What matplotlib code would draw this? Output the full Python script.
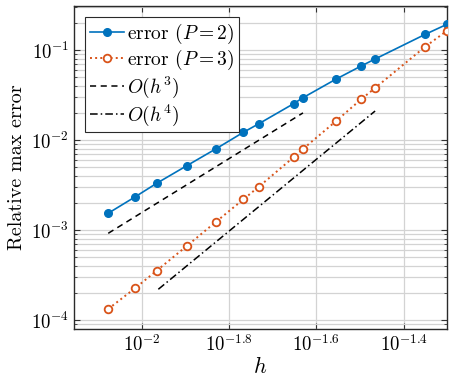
import numpy as np
import matplotlib
matplotlib.use("Agg")
import matplotlib.pyplot as plt
from matplotlib.ticker import FixedLocator, FuncFormatter, LogLocator, NullFormatter

plt.rcParams['font.family'] = 'serif'
plt.rcParams['font.serif'] = ['cmr10']
plt.rcParams['mathtext.fontset'] = 'cm'
plt.rcParams['axes.unicode_minus'] = False
plt.rcParams['axes.formatter.use_mathtext'] = True

# data (log10 values)
log_h = [-2.0766, -2.0154, -1.9656, -1.8968, -1.8296, -1.767, -1.7317,
         -1.6523, -1.6307, -1.556, -1.4977, -1.4656, -1.3509, -1.301]
log_err_p2 = [-2.814, -2.633, -2.481, -2.286, -2.097, -1.914, -1.819,
              -1.597, -1.530, -1.326, -1.178, -1.100, -0.826, -0.714]
log_err_p3 = [-3.878, -3.648, -3.452, -3.178, -2.908, -2.659, -2.519,
              -2.192, -2.100, -1.794, -1.548, -1.422, -0.963, -0.786]
# reference slope lines: endpoints (log10 h, log10 value)
ref3_log_h = [-2.0766, -1.6307]
ref3_log_y = [-3.037, -1.699]
ref4_log_h = [-1.9619, -1.4656]
ref4_log_y = [-3.659, -1.678]
x_tick_exps = [-2.0, -1.8, -1.6, -1.4]

h = 10.0 ** np.array(log_h)
e2 = 10.0 ** np.array(log_err_p2)
e3 = 10.0 ** np.array(log_err_p3)

fig = plt.figure(figsize=(4.55, 3.83), dpi=100)
ax = fig.add_axes([0.1626, 0.1418, 0.8198, 0.8425])

blue = '#0072BD'
orange = '#D95319'
ax.plot(h, e2, '-', color=blue, lw=1.2, marker='o', ms=5.5, mfc=blue, mec=blue,
        label=r'error ($P=2$)', zorder=4)
ax.plot(h, e3, ':', color=orange, lw=1.4, marker='o', ms=5.5, mfc='white', mec=orange,
        mew=1.3, label=r'error ($P=3$)', zorder=4)
ax.plot(10.0 ** np.array(ref3_log_h), 10.0 ** np.array(ref3_log_y), '--', color='black',
        lw=1.1, dashes=(4, 3), label=r'$O(h^3)$', zorder=3)
ax.plot(10.0 ** np.array(ref4_log_h), 10.0 ** np.array(ref4_log_y), color='black',
        lw=1.1, dashes=(5, 2, 1, 2), label=r'$O(h^4)$', zorder=3)

ax.set_xscale('log')
ax.set_yscale('log')
ax.set_xlim(10 ** -2.155, 10 ** -1.301)
ax.set_ylim(10 ** -4.097, 10 ** -0.511)

ax.xaxis.set_major_locator(FixedLocator([10.0 ** e for e in x_tick_exps]))
ax.xaxis.set_major_formatter(FuncFormatter(
    lambda v, p: r'$10^{%s}$' % ('%g' % round(np.log10(v), 3))))
ax.xaxis.set_minor_locator(FixedLocator([]))
ax.yaxis.set_major_locator(LogLocator(base=10, numticks=10))
ax.yaxis.set_minor_locator(LogLocator(base=10, subs=np.arange(2, 10), numticks=20))
ax.yaxis.set_minor_formatter(NullFormatter())

ax.grid(True, which='major', color='#d3d3d3', lw=0.9, zorder=0)
ax.grid(True, which='minor', axis='y', color='#d3d3d3', lw=0.9, zorder=0)
ax.set_axisbelow(True)

ax.tick_params(which='both', direction='in', top=True, right=True, labelsize=13.5,
               color='#333333')
ax.tick_params(which='major', length=4, width=0.8)
ax.tick_params(which='minor', length=2.5, width=0.6)
for s in ax.spines.values():
    s.set_color('#2a2a2a')
    s.set_linewidth(1.0)

ax.set_xlabel(r'$h$', fontsize=16, labelpad=1)
ax.set_ylabel('Relative max error', fontsize=14.5, labelpad=4)

leg = ax.legend(loc='upper left', fontsize=14, frameon=True, fancybox=False,
                edgecolor='#2a2a2a', framealpha=1, borderaxespad=0.55,
                handlelength=1.75, handletextpad=0.2, labelspacing=0.12,
                borderpad=0.25)
leg.get_frame().set_linewidth(0.8)

fig.savefig('out.png', dpi=100)
